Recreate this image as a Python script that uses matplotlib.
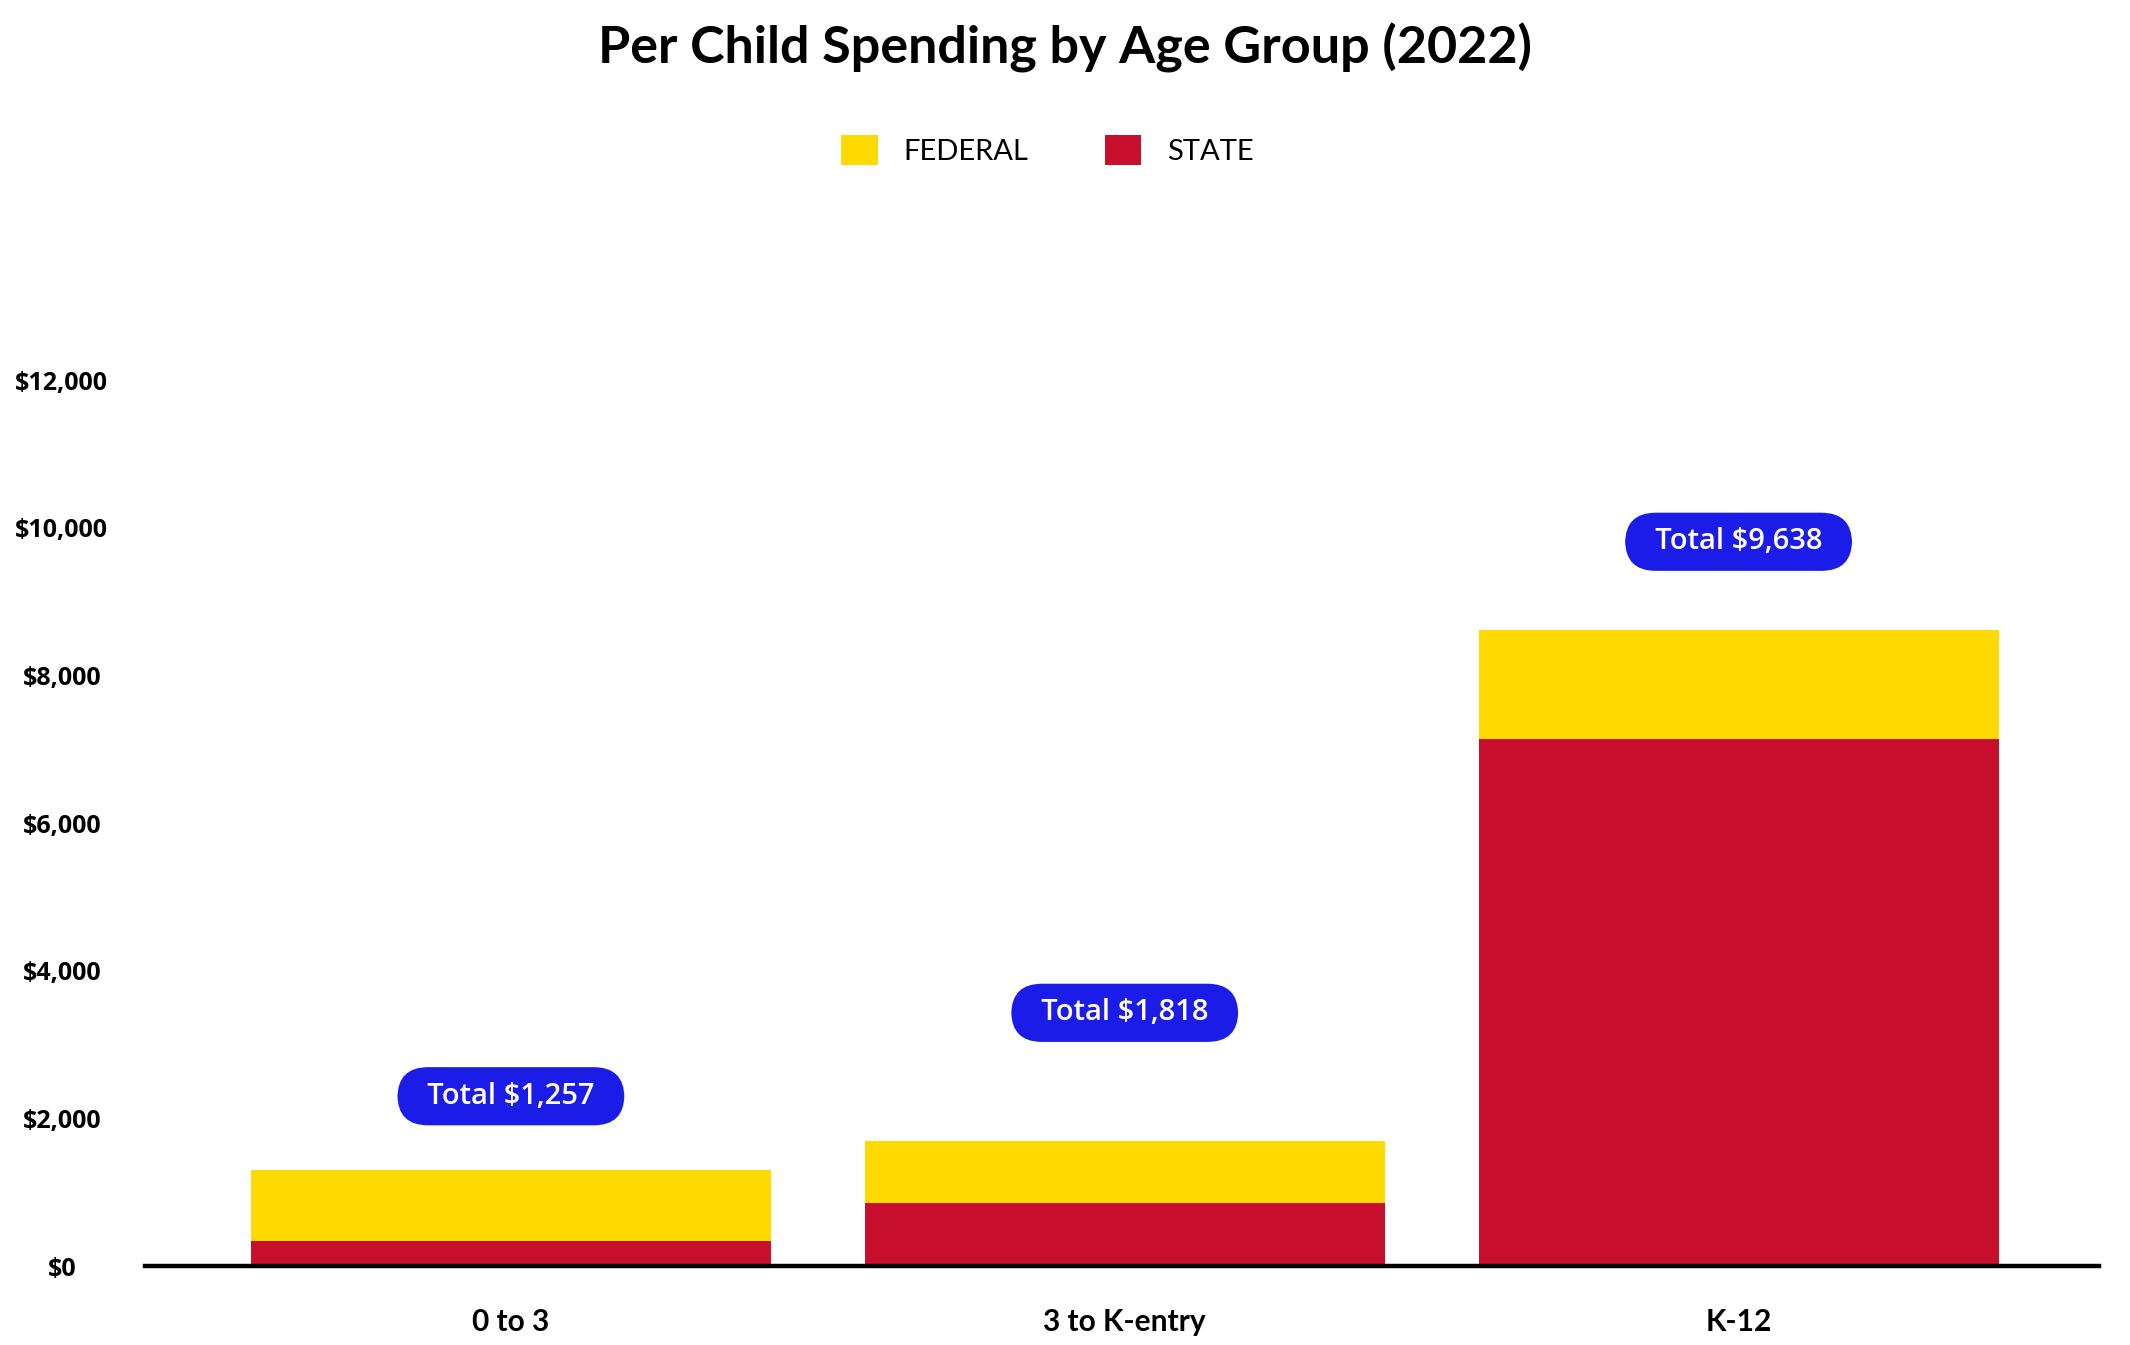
import numpy as np
import matplotlib
matplotlib.use('Agg')
import matplotlib.pyplot as plt

# data
categories = ['0 to 3', '3 to K-entry', 'K-12']
state = [334, 849, 7138]
federal = [966, 844, 1476]
total_labels = ['Total $1,257', 'Total $1,818', 'Total $9,638']
y_ticks = [0, 2000, 4000, 6000, 8000, 10000, 12000]

# layout: where the total pills sit (data units)
pill_y = [2300, 3430, 9810]

YELLOW = '#FFDA00'
RED = '#C8102E'
BLUE = '#1C1CE8'

plt.rcParams['font.family'] = ['Lato', 'DejaVu Sans']

fig = plt.figure(figsize=(21.3, 13.45), dpi=100)
ax = fig.add_axes([0.0681, 0.0587, 0.9854 - 0.0681, 0.7723 - 0.0587])

x = np.arange(len(categories))
width = 0.847
ax.bar(x, state, width, color=RED, label='STATE', zorder=2)
ax.bar(x, federal, width, bottom=state, color=YELLOW, label='FEDERAL', zorder=2)

# total pills
for xi, lab, py in zip(x, total_labels, pill_y):
    ax.text(xi, py, '  ' + lab + '  ', ha='center', va='center', color='white',
            fontsize=21, fontweight='semibold', family=['Open Sans', 'DejaVu Sans'],
            bbox=dict(boxstyle='round,pad=0.5,rounding_size=1.05', fc=BLUE, ec='none'),
            zorder=3)

ax.set_xlim(-0.596, 2.587)
ax.set_ylim(0, 13000)

ax.set_xticks(x)
ax.set_xticklabels(categories, fontsize=21.5, fontweight='bold')
ax.set_yticks(y_ticks)
ax.set_yticklabels([f'${v:,}' for v in y_ticks], fontsize=18, fontweight='bold',
                   family=['Open Sans', 'DejaVu Sans'])
for lbl in ax.get_yticklabels():
    lbl.set_horizontalalignment('center')
ax.tick_params(axis='y', length=0, pad=60)
ax.tick_params(axis='x', length=0, pad=30)

for side in ['top', 'right', 'left']:
    ax.spines[side].set_visible(False)
ax.spines['bottom'].set_linewidth(3.2)
ax.spines['bottom'].set_zorder(4)

# legend: federal first, then state
handles, labels = ax.get_legend_handles_labels()
fig.legend(handles[::-1], labels[::-1], loc='center', bbox_to_anchor=(0.4918, 0.8885),
           ncol=2, frameon=False, fontsize=21, handlelength=1.25, handleheight=1.25,
           handletextpad=0.9, columnspacing=2.6)

fig.suptitle('Per Child Spending by Age Group (2022)', y=0.9647, va='center',
             fontsize=37.5, fontweight='bold')

plt.savefig('out.png', dpi=100)
